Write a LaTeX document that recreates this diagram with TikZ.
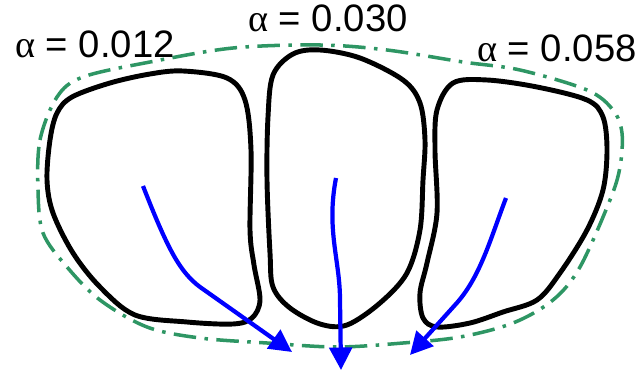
\documentclass[tikz,border=0pt]{standalone}
\usepackage{fontspec}
\setmainfont{Liberation Sans}
\newfontfamily\greekfont{Liberation Serif}
\usetikzlibrary{arrows.meta}
\begin{document}
\begin{tikzpicture}[x=0.025cm, y=-0.025cm,
  every node/.style={anchor=base west, inner sep=0pt, font=\fontsize{27.2}{32}\selectfont},
  cell/.style={line width=3.5pt, black},
  hull/.style={line width=2.5pt, color={rgb,255:red,46;green,150;blue,100}, dash pattern=on 16pt off 6pt on 2.5pt off 6pt},
  flow/.style={line width=3pt, blue, -{Triangle[length=16pt, width=16pt]}}]
  \useasboundingbox (0,0) rectangle (639,373);
  % cells
  \draw[cell] plot[smooth cycle, tension=0.55] coordinates {(135,315) (100,287) (73,253) (53,213) (47,180) (50,140) (57,113) (72,97) (110,83) (150,74) (183,71) (227,78) (245,100) (251,150) (250,230) (254,265) (260,300) (252,318) (233,324) (187,322)};
  \draw[cell] plot[smooth cycle, tension=0.55] coordinates {(320,50) (360,58) (403,80) (420,103) (425,140) (423,180) (420,230) (407,273) (380,303) (347,325) (320,324) (290,308) (273,287) (270,253) (267,180) (268,117) (273,75) (293,54)};
  \draw[cell] plot[smooth cycle, tension=0.55] coordinates {(453,83) (487,80) (537,87) (587,100) (603,117) (607,150) (603,190) (587,230) (560,273) (537,300) (503,312) (470,323) (437,327) (423,318) (420,293) (427,263) (437,213) (435,150) (437,110)};
  % outline
  \draw[hull] plot[smooth cycle, tension=0.55] coordinates {(38,190) (40,140) (57,97) (83,77) (150,62) (233,48) (320,45) (387,50) (463,62) (520,70) (587,90) (613,110) (622,133) (620,167) (610,200) (580,267) (553,300) (513,323) (460,337) (403,343) (337,347) (267,343) (200,338) (147,327) (100,300) (67,267) (43,233)};
  % labels
  \node (a1) at (15,58) {{\greekfont α} = 0.012};
  \node (a2) at (248,32) {{\greekfont α} = 0.030};
  \node (a3) at (477,62) {{\greekfont α} = 0.058};
  % arrows
  \coordinate (s1) at (143,186);
  \coordinate (e1) at (292,352);
  \coordinate (s2) at (336,178);
  \coordinate (e2) at (341,370);
  \coordinate (s3) at (506,198);
  \coordinate (e3) at (410,355);
  \draw[flow] (s1) .. controls (168,250) and (180,272) .. (200,287) -- (e1);
  \draw[flow] (s2) .. controls (326,230) and (340,260) .. (340,300) -- (e2);
  \draw[flow] (s3) .. controls (490,240) and (480,278) .. (455,305) -- (e3);
\end{tikzpicture}
\end{document}
